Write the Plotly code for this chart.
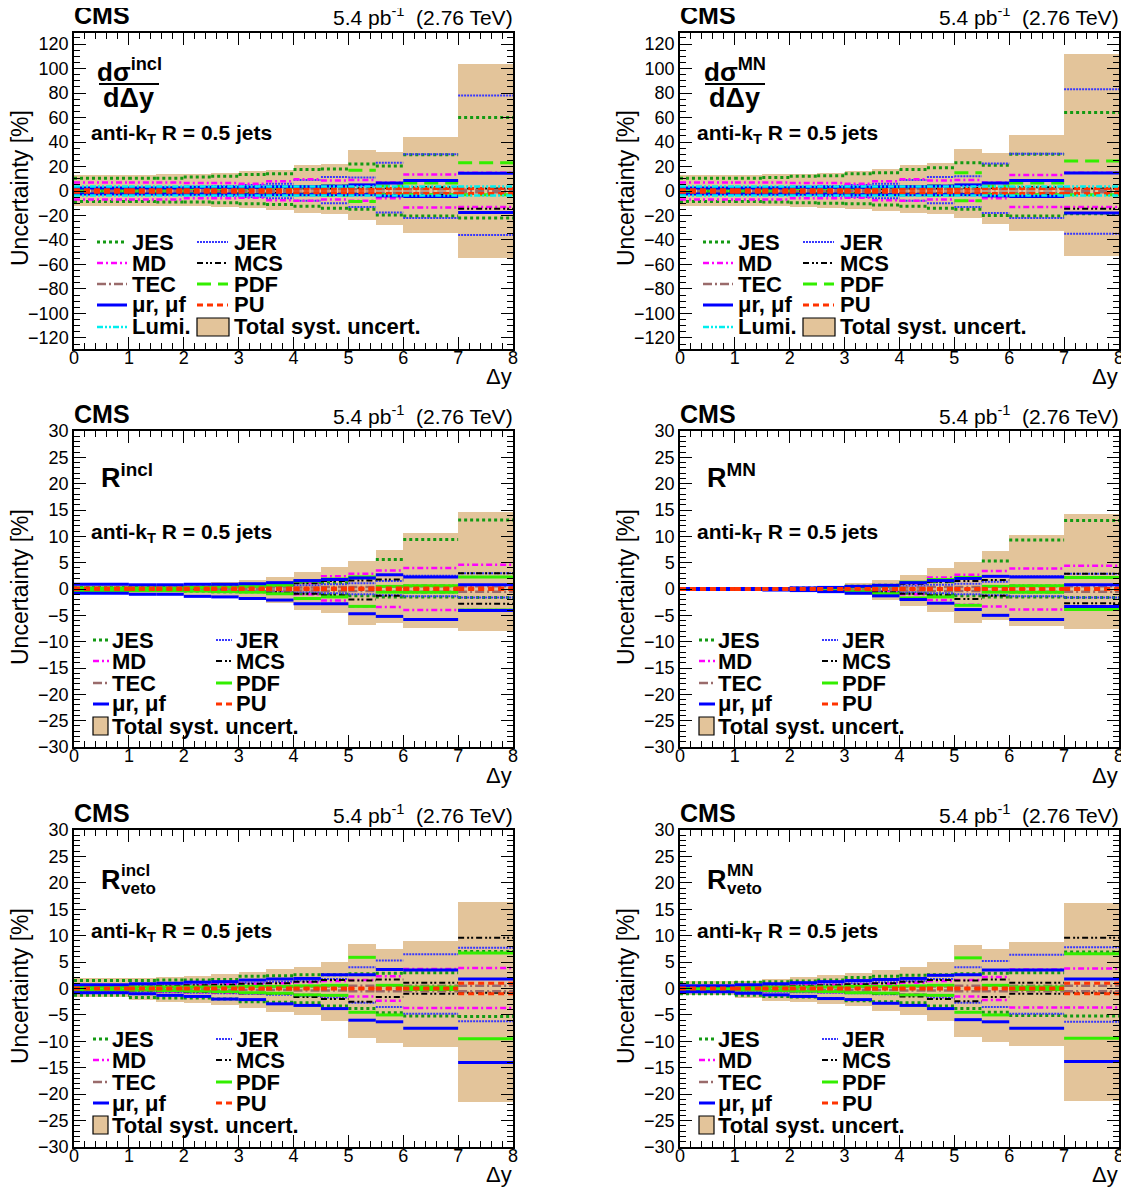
import plotly.graph_objects as go

# page body has an 8px margin: the figure is sized to fit the 1129x1187 window
OFF = 8
W, H = 1129 - OFF, 1187 - OFF
FONT = "Liberation Sans, Arial, Helvetica, sans-serif"

# ---------------- data ----------------
bin_edges = [0, 1, 1.5, 2, 2.5, 3, 3.5, 4, 4.5, 5, 5.5, 6, 7, 8]

# Panel A : dsigma^incl / dDy
A_tot_up = [13, 13, 13.5, 14, 14.5, 16, 17, 21, 22, 33.5, 32, 44.5, 104]
A_tot_dn = [-12, -12, -12, -12.5, -13, -14, -15.5, -18, -18.5, -24, -28, -34, -55]
A_jes_up = [10.5, 10.5, 10.5, 11.5, 12, 13.5, 14, 17.5, 18, 22, 20.5, 29.5, 60]
A_jes_dn = [-8.5, -8.5, -9, -9, -9.5, -10.5, -11, -12.5, -14, -15, -19.5, -20.5, -22]
A_jer_up = [2.5, 2.5, 3, 3.5, 4, 5, 6, 9, 11.5, 11, 23, 30, 78]
A_jer_dn = [-2.5, -2.5, -3, -3.5, -4, -5, -6, -8, -10, -13, -17.5, -22, -36]
A_md_up = [7, 7, 7, 6.5, 6.5, 6, 8, 9.5, 8.5, 9, 7, 13.5, 15]
A_md_dn = [-7, -7, -7, -6, -6, -5.5, -7.5, -8, -7, -8, -6, -13.5, -13]
A_mcs_up = [1, 1, 1, 1, 1, 1.5, 1.5, 2, 2, 2.5, 2.5, 3, 2]
A_mcs_dn = [-1, -1, -1, -1, -1, -1.5, -1.5, -2, -2, -2.5, -2.5, -3, -14.5]
A_tec_up = [1, 1, 1, 1, 1, 1, 1, 1.5, 1.5, 1.5, 1.5, 1.5, 1]
A_tec_dn = [-1, -1, -1, -1, -1, -1, -1, -1.5, -1.5, -1.5, -1.5, -1.5, -1]
A_pdf_up = [1.5, 1.5, 1.5, 2, 2, 2.5, 3, 3.5, 4, 17, 4, 6.5, 23]
A_pdf_dn = [-1.5, -1.5, -1.5, -2, -2, -2.5, -3, -3, -3.5, -8.5, -3, -3, -3]
A_mu_up = [2.5, 2.5, 2.5, 3, 3, 3, 3.5, 3.5, 4, 5, 6.5, 8.5, 14.5]
A_mu_dn = [-2.5, -2.5, -2.5, -2.5, -2.5, -3, -3, -3, -3, -3, -4, -4.5, -17.5]
A_pu_up = [1, 1, 1, 1, 1, 1, 1, 1.5, 1.5, 1.5, 2, 2, 2]
A_pu_dn = [-1, -1, -1, -1, -1, -1, -1, -1.5, -1.5, -1.5, -2, -2, -2]
A_lumi_up = [3.7] * 13
A_lumi_dn = [-3.7] * 13

# Panel B : dsigma^MN / dDy
B_tot_up = [13, 13, 13.5, 14, 15, 16.5, 18, 21, 23, 34, 31, 46, 112]
B_tot_dn = [-12, -12, -12, -13, -13.5, -14.5, -16, -18, -19, -22, -27, -33, -53]
B_jes_up = [10.5, 10.5, 11, 12, 12.5, 14, 15, 17.5, 19, 23, 21, 30, 64]
B_jes_dn = [-8.5, -8.5, -9, -9.5, -10, -10.5, -11.5, -12.5, -14, -15, -20, -20.5, -18.5]
B_jer_up = [2.5, 2.5, 3, 3.5, 4, 5, 6, 9, 11.5, 12, 22.5, 30.5, 83]
B_jer_dn = [-2.5, -2.5, -3, -3.5, -4, -5, -6, -8, -10, -13, -18, -22, -35]
B_md_up = [7, 7, 7, 6.5, 6.5, 6, 8, 9.5, 8.5, 9, 7, 13, 15]
B_md_dn = [-7, -7, -7, -6, -6, -5.5, -7.5, -8, -7, -8, -6, -13, -13]
B_mcs_up = [1, 1, 1, 1, 1, 1.5, 1.5, 2, 2, 2.5, 2.5, 3, 2]
B_mcs_dn = [-1, -1, -1, -1, -1, -1.5, -1.5, -2, -2, -2.5, -2.5, -3, -14.5]
B_tec_up = [1, 1, 1, 1, 1, 1, 1, 1.5, 1.5, 1.5, 1.5, 1.5, 1]
B_tec_dn = [-1, -1, -1, -1, -1, -1, -1, -1.5, -1.5, -1.5, -1.5, -1.5, -1]
B_pdf_up = [1.5, 1.5, 1.5, 2, 2, 2.5, 3, 3.5, 4, 15, 4, 6.5, 24.5]
B_pdf_dn = [-1.5, -1.5, -1.5, -2, -2, -2.5, -3, -3, -3.5, -8, -3, -3, -3]
B_mu_up = [2.5, 2.5, 2.5, 3, 3, 3, 3.5, 3.5, 4, 5, 6.5, 8.5, 14.7]
B_mu_dn = [-2.5, -2.5, -2.5, -2.5, -2.5, -3, -3, -3, -3, -3, -4, -4.5, -18]
B_pu_up = [1, 1, 1, 1, 1, 1, 1, 1.5, 1.5, 1.5, 2, 2, 2]
B_pu_dn = [-1, -1, -1, -1, -1, -1, -1, -1.5, -1.5, -1.5, -2, -2, -2]
B_lumi_up = [3.7] * 13
B_lumi_dn = [-3.7] * 13

# Panel C : R^incl
C_tot_up = [1.0, 0.9, 1.0, 1.0, 1.3, 1.8, 2.3, 3.2, 4.2, 5.3, 7.4, 10.6, 14.6]
C_tot_dn = [-1.0, -1.1, -1.1, -1.4, -1.6, -1.9, -2.7, -3.9, -4.6, -6.9, -6.5, -7.4, -7.9]
C_jes_up = [0.3, 0.3, 0.4, 0.4, 0.5, 0.6, 0.7, 1.3, 1.2, 2.1, 5.6, 9.4, 13.1]
C_jes_dn = [-0.3, -0.3, -0.3, -0.4, -0.5, -0.5, -0.7, -0.9, -1.0, -1.3, -1.5, -1.5, -1.6]
C_jer_up = [0.2, 0.2, 0.2, 0.3, 0.3, 0.4, 0.5, 0.7, 0.9, 1.1, 1.5, 2.5, 3.0]
C_jer_dn = [-0.2, -0.2, -0.2, -0.3, -0.3, -0.4, -0.5, -0.6, -0.8, -1.0, -1.2, -1.4, -1.6]
C_md_up = [0.2, 0.2, 0.3, 0.3, 0.4, 0.5, 0.8, 1.2, 2.4, 2.9, 3.5, 4.0, 4.6]
C_md_dn = [-0.2, -0.2, -0.3, -0.3, -0.4, -0.5, -0.7, -1.0, -2.2, -3.3, -3.4, -4.0, -4.0]
C_mcs_up = [0.2, 0.2, 0.2, 0.3, 0.3, 0.5, 0.7, 1.1, 1.5, 1.6, 1.8, 0.6, 3.0]
C_mcs_dn = [-0.2, -0.2, -0.2, -0.3, -0.3, -0.5, -0.6, -0.9, -1.2, -2.0, -1.3, -0.6, -2.8]
C_tec_up = [0.1, 0.1, 0.1, 0.1, 0.2, 0.2, 0.3, 0.3, 0.4, 0.4, 0.5, 0.5, 0.5]
C_tec_dn = [-0.1, -0.1, -0.1, -0.1, -0.2, -0.2, -0.3, -0.3, -0.4, -0.4, -0.5, -0.5, -0.5]
C_pdf_up = [0.2, 0.2, 0.2, 0.3, 0.4, 0.5, 0.7, 1.5, 1.9, 2.3, 0.5, 0.6, 2.3]
C_pdf_dn = [-0.3, -0.3, -0.3, -0.4, -0.5, -0.6, -0.9, -1.8, -1.5, -3.3, -0.6, -0.6, -4.0]
C_mu_up = [0.9, 0.8, 0.8, 0.9, 0.9, 1.0, 1.2, 1.6, 1.8, 2.1, 2.7, 2.3, 0.8]
C_mu_dn = [-0.8, -1.0, -1.0, -1.4, -1.5, -1.8, -2.1, -2.8, -2.8, -4.7, -5.2, -5.8, -4.1]
C_pu_up = [0.2] * 13
C_pu_dn = [-0.1] * 13

# Panel D : R^MN
D_tot_up = [0.3, 0.3, 0.3, 0.4, 0.6, 1.1, 1.7, 2.7, 4.0, 5.1, 7.2, 10.2, 14.2]
D_tot_dn = [-0.3, -0.3, -0.3, -0.4, -0.6, -1.2, -2.1, -3.2, -4.4, -6.4, -5.9, -7.0, -7.6]
D_jes_up = [0.1, 0.1, 0.1, 0.2, 0.3, 0.5, 0.7, 1.2, 1.4, 2.0, 5.3, 9.3, 13.0]
D_jes_dn = [-0.1, -0.1, -0.1, -0.2, -0.3, -0.4, -0.6, -0.8, -1.0, -1.3, -1.5, -1.5, -1.6]
D_jer_up = [0.1, 0.1, 0.1, 0.1, 0.2, 0.3, 0.4, 0.6, 0.8, 1.0, 1.4, 2.4, 2.9]
D_jer_dn = [-0.1, -0.1, -0.1, -0.1, -0.2, -0.3, -0.4, -0.6, -0.8, -1.0, -1.2, -1.4, -1.6]
D_md_up = [0.1, 0.1, 0.1, 0.2, 0.3, 0.4, 0.7, 1.1, 2.2, 2.7, 3.4, 3.9, 4.4]
D_md_dn = [-0.1, -0.1, -0.1, -0.2, -0.3, -0.4, -0.6, -1.0, -2.1, -3.0, -3.3, -3.9, -3.9]
D_mcs_up = [0.1, 0.1, 0.1, 0.1, 0.2, 0.4, 0.6, 1.0, 1.4, 1.5, 1.7, 0.6, 2.9]
D_mcs_dn = [-0.1, -0.1, -0.1, -0.1, -0.2, -0.4, -0.6, -0.9, -1.2, -1.9, -1.3, -0.6, -2.7]
D_tec_up = [0.05, 0.05, 0.05, 0.1, 0.1, 0.2, 0.2, 0.3, 0.4, 0.4, 0.5, 0.5, 0.5]
D_tec_dn = [-0.05, -0.05, -0.05, -0.1, -0.1, -0.2, -0.2, -0.3, -0.4, -0.4, -0.5, -0.5, -0.5]
D_pdf_up = [0.1, 0.1, 0.1, 0.1, 0.2, 0.4, 0.6, 1.3, 1.8, 2.2, 0.5, 0.6, 2.2]
D_pdf_dn = [-0.1, -0.1, -0.1, -0.2, -0.3, -0.5, -0.9, -1.7, -1.5, -3.1, -0.6, -0.6, -3.9]
D_mu_up = [0.1, 0.1, 0.1, 0.2, 0.3, 0.5, 0.7, 1.2, 1.6, 2.0, 2.4, 2.3, 0.8]
D_mu_dn = [-0.1, -0.1, -0.2, -0.3, -0.5, -0.8, -1.3, -2.0, -2.7, -3.9, -5.0, -5.8, -3.3]
D_pu_up = [0.1] * 13
D_pu_dn = [-0.1] * 13

# Panel E : R_veto^incl
E_tot_up = [1.9, 1.9, 2.2, 2.4, 2.7, 3.2, 3.6, 4.1, 5.1, 8.4, 7.5, 8.9, 16.4]
E_tot_dn = [-1.7, -2.2, -2.6, -2.8, -3.2, -3.6, -4.4, -5.1, -6.2, -9.4, -10.3, -11.0, -21.4]
E_jes_up = [1.5, 1.5, 1.6, 1.6, 1.7, 2.3, 2.4, 2.6, 2.6, 2.8, 2.9, 3.0, 7.0]
E_jes_dn = [-1.3, -1.7, -1.8, -1.8, -2.0, -2.5, -2.6, -2.7, -3.3, -3.8, -4.6, -5.2, -5.3]
E_jer_up = [0.5, 0.6, 0.7, 0.8, 0.9, 1.1, 1.3, 1.5, 1.8, 4.0, 5.3, 6.5, 7.7]
E_jer_dn = [-0.5, -0.6, -0.7, -0.8, -0.9, -1.0, -1.2, -1.4, -1.7, -2.7, -3.5, -4.8, -6.2]
E_md_up = [0.4, 0.5, 0.6, 0.7, 0.8, 0.9, 1.0, 1.2, 1.4, 1.6, 2.3, 3.7, 3.9]
E_md_dn = [-0.4, -0.5, -0.6, -0.7, -0.8, -0.9, -1.0, -1.2, -1.4, -1.5, -2.3, -3.7, -3.7]
E_mcs_up = [0.3, 0.4, 0.5, 0.6, 0.7, 0.9, 1.0, 1.3, 1.6, 1.5, 1.7, 1.1, 9.6]
E_mcs_dn = [-0.3, -0.4, -0.5, -0.6, -0.7, -0.9, -1.0, -1.6, -2.0, -2.5, -1.6, -1.0, -0.8]
E_tec_up = [0.2, 0.2, 0.2, 0.2, 0.3, 0.3, 0.3, 0.4, 0.4, 0.5, 0.5, 0.5, 0.5]
E_tec_dn = [-0.2, -0.2, -0.2, -0.2, -0.3, -0.3, -0.3, -0.4, -0.4, -0.5, -0.5, -0.5, -0.5]
E_pdf_up = [0.3, 0.3, 0.3, 0.3, 0.3, 0.4, 0.4, 0.5, 0.6, 5.9, 0.6, 0.3, 6.7]
E_pdf_dn = [-0.3, -0.3, -0.4, -0.5, -0.6, -0.8, -0.9, -1.2, -1.3, -4.5, -5.0, -0.2, -9.5]
E_mu_up = [0.7, 0.9, 1.0, 1.2, 1.3, 1.6, 1.8, 1.9, 2.6, 2.6, 3.6, 3.5, 1.8]
E_mu_dn = [-0.8, -1.0, -1.3, -1.5, -2.0, -2.1, -2.9, -3.2, -3.8, -6.0, -6.3, -7.5, -14.0]
E_pu_up = [0.1] * 12 + [1.0]
E_pu_dn = [-0.1] * 12 + [-1.0]

# Panel F : R_veto^MN
F_tot_up = [1.4, 1.5, 1.8, 2.1, 2.5, 3.0, 3.5, 4.0, 5.0, 8.3, 7.4, 8.8, 16.2]
F_tot_dn = [-1.3, -1.8, -2.3, -2.6, -3.0, -3.4, -4.3, -5.0, -6.1, -9.2, -10.2, -10.9, -21.3]
F_jes_up = [1.1, 1.2, 1.3, 1.4, 1.6, 2.1, 2.3, 2.5, 2.6, 2.8, 2.9, 3.0, 6.9]
F_jes_dn = [-1.0, -1.3, -1.5, -1.6, -1.9, -2.3, -2.5, -2.7, -3.3, -3.8, -4.5, -5.1, -5.2]
F_jer_up = [0.4, 0.5, 0.6, 0.7, 0.8, 1.0, 1.2, 1.4, 1.8, 4.0, 5.2, 6.4, 7.8]
F_jer_dn = [-0.4, -0.5, -0.6, -0.7, -0.8, -0.9, -1.1, -1.3, -1.7, -2.7, -3.5, -4.8, -6.3]
F_md_up = [0.3, 0.4, 0.5, 0.6, 0.7, 0.8, 0.9, 1.1, 1.4, 1.6, 2.2, 3.6, 3.8]
F_md_dn = [-0.3, -0.4, -0.5, -0.6, -0.7, -0.8, -0.9, -1.1, -1.4, -1.5, -2.2, -3.6, -3.6]
F_mcs_up = [0.2, 0.3, 0.4, 0.5, 0.6, 0.8, 1.0, 1.3, 1.6, 1.5, 1.7, 1.1, 9.6]
F_mcs_dn = [-0.2, -0.3, -0.4, -0.5, -0.6, -0.8, -1.0, -1.5, -2.0, -2.4, -1.6, -1.0, -0.8]
F_tec_up = [0.1, 0.1, 0.2, 0.2, 0.3, 0.3, 0.3, 0.4, 0.4, 0.5, 0.5, 0.5, 0.5]
F_tec_dn = [-0.1, -0.1, -0.2, -0.2, -0.3, -0.3, -0.3, -0.4, -0.4, -0.5, -0.5, -0.5, -0.5]
F_pdf_up = [0.2, 0.2, 0.3, 0.3, 0.3, 0.4, 0.4, 0.5, 0.6, 5.8, 0.6, 0.3, 6.6]
F_pdf_dn = [-0.2, -0.3, -0.4, -0.5, -0.6, -0.8, -0.9, -1.2, -1.3, -4.5, -5.0, -0.2, -9.4]
F_mu_up = [0.5, 0.7, 0.9, 1.1, 1.3, 1.5, 1.7, 1.9, 2.5, 2.6, 3.5, 3.5, 1.8]
F_mu_dn = [-0.6, -0.9, -1.2, -1.5, -1.9, -2.1, -2.8, -3.2, -3.8, -5.9, -6.3, -7.5, -13.8]
F_pu_up = [0.1] * 12 + [1.0]
F_pu_dn = [-0.1] * 12 + [-1.0]

panel_labels = ["incl", "MN", "incl", "MN", "incl", "MN"]
legend_names = ["JES", "JER", "MD", "MCS", "TEC", "PDF", "\u03bcr, \u03bcf", "PU", "Lumi."]

# ---------------- styles ----------------
STY = {
    "jes": dict(color="#139a13", dash="3px,3px", width=3),
    "jer": dict(color="#3737ff", dash="2px,1px", width=2),
    "md": dict(color="#ff00ff", dash="6px,3px,2px,3px", width=2.5),
    "mcs": dict(color="#000000", dash="6px,3px,2px,2px,2px,3px", width=2),
    "tec": dict(color="#9a6b6b", dash="9px,3px,2px,3px", width=2.5),
    "pdf": dict(color="#33ee00", dash="14px,7px", width=3),
    "mu": dict(color="#0000ff", dash="solid", width=3),
    "pu": dict(color="#ff3300", dash="6px,4px", width=3),
    "lumi": dict(color="#00eeee", dash="6px,2px,2px,2px,2px,2px", width=2.5),
}
BAND = "#e3c49a"

G = globals()
panels = []
for k, pfx in enumerate("ABCDEF"):
    d = {}
    for s in ["tot", "jes", "jer", "md", "mcs", "tec", "pdf", "mu", "pu", "lumi"]:
        if pfx + "_" + s + "_up" in G:
            d[s] = (G[pfx + "_" + s + "_up"], G[pfx + "_" + s + "_dn"])
    panels.append(d)


def PX(px):
    return (px - OFF) / W


def PY(py):
    return 1 - (py - OFF) / H


def ann(px, py, text, size, xanchor="left", bold=False, angle=0):
    return dict(x=PX(px), y=PY(py), xref="paper", yref="paper", text=("<b>%s</b>" % text) if bold else text,
                showarrow=False, xanchor=xanchor, yanchor="middle", textangle=angle,
                font=dict(family=FONT, size=size, color="black"))


# plot-area boxes in window pixels (x0, x1, y_top, y_bot)
cols_px = [(74, 513), (680, 1119)]
rows_px = [(33, 349), (431, 747), (830, 1147)]
yranges = [(-129, 129), (-30, 30), (-30, 30)]

fig = go.Figure()
centers = [(bin_edges[i] + bin_edges[i + 1]) / 2 for i in range(len(bin_edges) - 1)]
widths = [bin_edges[i + 1] - bin_edges[i] for i in range(len(bin_edges) - 1)]


def seg(vals):
    xs, ys = [], []
    for i, v in enumerate(vals):
        xs += [bin_edges[i], bin_edges[i + 1], None]
        ys += [v, v, None]
    return xs, ys


layout = {}
shapes = []
annotations = []
for k in range(6):
    r, c = k // 2, k % 2
    ax = "" if k == 0 else str(k + 1)
    xr = "x" + ax
    yr = "y" + ax
    d = panels[k]
    up, dn = d["tot"]
    fig.add_trace(go.Bar(x=centers, y=[u - l for u, l in zip(up, dn)], base=dn, width=widths,
                         marker=dict(color=BAND, line=dict(width=0)), xaxis=xr, yaxis=yr,
                         showlegend=False, hoverinfo="skip"))
    for s in ["jes", "jer", "md", "mcs", "tec", "pdf", "mu", "pu", "lumi"]:
        if s not in d:
            continue
        st = dict(STY[s])
        if s == "pdf" and r > 0:
            st["dash"] = "solid"
        for vals in d[s]:
            xs, ys = seg(vals)
            fig.add_trace(go.Scatter(x=xs, y=ys, mode="lines", line=st, xaxis=xr, yaxis=yr,
                                     showlegend=False, hoverinfo="skip"))
    x0, x1 = cols_px[c]
    yt, yb = rows_px[r]
    lo, hi = yranges[r]
    layout["xaxis" + ax] = dict(
        domain=[PX(x0), PX(x1)], anchor=yr, range=[0, 8], dtick=1, tick0=0, automargin=False,
        ticks="inside", ticklen=12, tickwidth=1, tickcolor="black", mirror="allticks",
        showline=True, linecolor="black", linewidth=1.5, showgrid=False, zeroline=False,
        ticklabelstandoff=-8,
        minor=dict(ticks="inside", dtick=0.2, ticklen=6, tickcolor="black", showgrid=False),
        tickfont=dict(family=FONT, size=18, color="black"))
    layout["yaxis" + ax] = dict(
        domain=[PY(yb), PY(yt)], anchor=xr, range=[lo, hi], automargin=False,
        dtick=20 if r == 0 else 5, tick0=0,
        ticks="inside", ticklen=12, tickwidth=1, tickcolor="black", mirror="allticks",
        showline=True, linecolor="black", linewidth=1.5, showgrid=False, zeroline=False,
        minor=dict(ticks="inside", dtick=5 if r == 0 else 1, ticklen=6, tickcolor="black", showgrid=False),
        tickfont=dict(family=FONT, size=18, color="black"))

    off = 606 * c
    dy = [0, 399, 798][r]
    annotations.append(ann(72 + off, 15 + dy, "CMS", 25, bold=True))
    annotations.append(ann(515 + off, 16 + dy, "5.4 pb<sup>-1</sup>  (2.76 TeV)", 21, xanchor="right"))
    annotations.append(ann(20 + off, 188 + dy, "Uncertainty [%]", 23, xanchor="center", angle=-90))
    annotations.append(ann(514 + off, 376 + dy, "\u0394y", 22, xanchor="right"))
    annotations.append(ann(89 + off, 134 + dy, "anti-k<sub>T</sub> R = 0.5 jets", 21, bold=True))
    lab = panel_labels[k]
    if r == 0:
        annotations.append(ann(129 + off, 70, "d\u03c3<sup>%s</sup>" % lab, 26, xanchor="center", bold=True))
        shapes.append(dict(type="line", xref="paper", yref="paper",
                           x0=PX(99 + off), x1=PX(159 + off), y0=PY(84), y1=PY(84),
                           line=dict(color="black", width=2)))
        annotations.append(ann(128 + off, 98, "d\u0394y", 27, xanchor="center", bold=True))
    elif r == 1:
        annotations.append(ann(99 + off, 476, "R<sup>%s</sup>" % lab, 27, bold=True))
    else:
        annotations.append(ann(99 + off, 880, "R", 27, bold=True))
        annotations.append(ann(119 + off, 870, lab, 17, bold=True))
        annotations.append(ann(119 + off, 888, "veto", 17, bold=True))

    # legend
    keys = ["jes", "jer", "md", "mcs", "tec", "pdf", "mu", "pu", "lumi"]
    if r == 0:
        rows_y = [242, 263, 284, 305, 327]
        colx = [(97, 127, 130), (197, 228, 232)]
    else:
        rows_y = [y + dy - 399 for y in (640, 661, 683, 704, 726)]
        colx = [(93, 109, 110), (216, 232, 234)]
    for i, key in enumerate(keys):
        if key not in d:
            continue
        rr, cc = i // 2, i % 2
        sx0, sx1, tx = colx[cc]
        yy = rows_y[rr]
        st = dict(STY[key])
        if key == "pdf" and r > 0:
            st["dash"] = "solid"
        shapes.append(dict(type="line", xref="paper", yref="paper",
                           x0=PX(sx0 + off), x1=PX(sx1 + off), y0=PY(yy), y1=PY(yy), line=st))
        annotations.append(ann(tx + off, yy, legend_names[i], 22, bold=True))
    if r == 0:
        bx0, bx1, yy, tx = 197, 229, 327, 232
    else:
        bx0, bx1, yy, tx = 93, 108, rows_y[4], 110
    shapes.append(dict(type="rect", xref="paper", yref="paper",
                       x0=PX(bx0 + off), x1=PX(bx1 + off), y0=PY(yy + 9), y1=PY(yy - 9),
                       fillcolor=BAND, line=dict(color="black", width=1.2)))
    annotations.append(ann(tx + off, yy, "Total syst. uncert.", 22, bold=True))

fig.update_layout(width=W, height=H, margin=dict(l=0, r=0, t=0, b=0, pad=0, autoexpand=False),
                  plot_bgcolor="white", paper_bgcolor="white", bargap=0, barmode="overlay",
                  showlegend=False, shapes=shapes, annotations=annotations,
                  font=dict(family=FONT, color="black"), **layout)
fig.write_html("out.html")
